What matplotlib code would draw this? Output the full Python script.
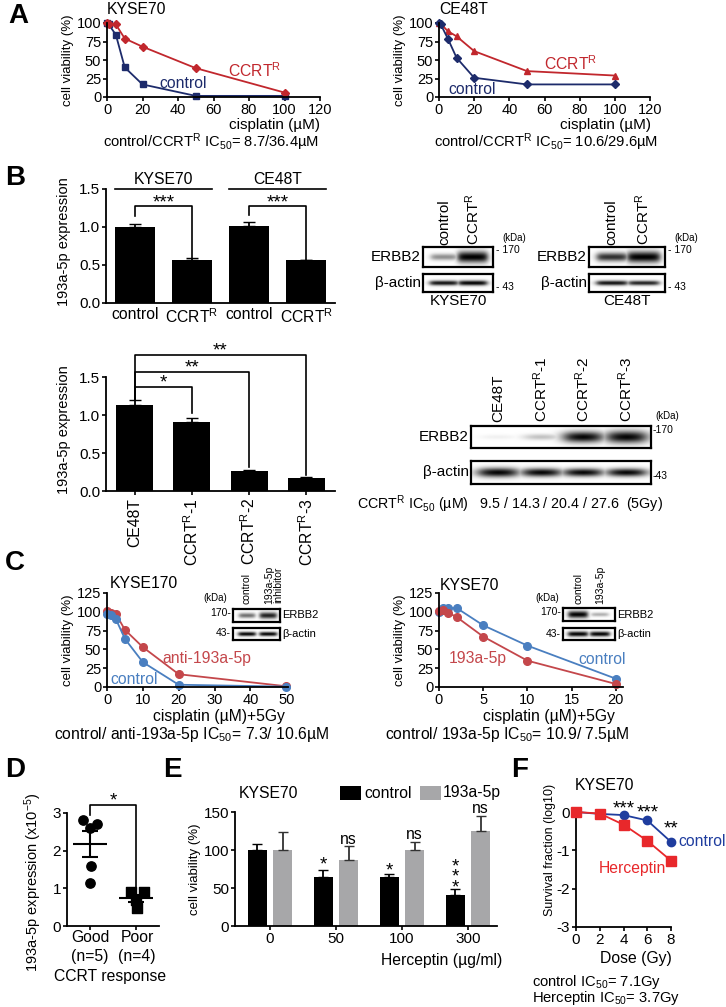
import numpy as np
import matplotlib.pyplot as plt
from matplotlib.patches import Rectangle

plt.rcParams['font.family'] = ['Liberation Sans', 'DejaVu Sans']
plt.rcParams['mathtext.default'] = 'regular'
plt.rcParams['axes.unicode_minus'] = False

# ---------------- data ----------------
# A: cisplatin dose response
a_dose = [0, 1, 5, 10, 20, 50, 100]
a_kyse_ctrl = [100, 98, 84, 40, 17, 1.5, 1.5]
a_kyse_ccrt = [100, 99, 98, 79, 68, 39, 6]
a_ce_ctrl = [100, 98, 79, 53, 26, 17, 17]
a_ce_ctrl_err = [1, 2, 4, 3, 3, 1, 1]
a_ce_ccrt = [100, 99, 89, 82, 62, 35, 29]

# B: 193a-5p expression
b_groups = ['KYSE70', 'CE48T']
b_labels = ['control', 'CCRT$^R$', 'control', 'CCRT$^R$']
b_expr = [1.00, 0.57, 1.01, 0.56]
b_err = [0.04, 0.02, 0.05, 0.005]
b2_labels = ['CE48T', 'CCRT$^R$-1', 'CCRT$^R$-2', 'CCRT$^R$-3']
b2_expr = [1.13, 0.91, 0.26, 0.17]
b2_err = [0.07, 0.05, 0.02, 0.01]
b2_ic50 = ['9.5', '14.3', '20.4', '27.6']

# western blot band strengths (0..1)
kyse_erbb2 = [0.35, 1.0]
kyse_actin = [0.75, 0.8]
ce_erbb2 = [0.65, 1.0]
ce_actin = [0.75, 0.7]
b2_erbb2 = [0.05, 0.2, 0.85, 1.0]
b2_actin = [1.0, 0.85, 0.8, 0.8]
c1_erbb2 = [0.45, 0.7]
c1_actin = [0.8, 0.8]
c2_erbb2 = [0.85, 0.25]
c2_actin = [0.95, 0.9]

# C: cisplatin + 5Gy
c1_dose = [0, 1, 2.5, 5, 10, 20, 50]
c1_ctrl = [97, 96, 90, 64, 33, 3, 0.5]
c1_anti = [101, 99, 97, 76, 53, 17, 1]
c2_dose = [0, 0.5, 1, 2, 5, 10, 20]
c2_ctrl = [100, 105, 105, 105, 82, 55, 11]
c2_mir = [101, 102, 99, 93, 67, 35, 4]

# D: patients
d_good = [2.82, 2.6, 2.72, 1.58, 1.15]
d_good_off = [-0.15, 0.0, 0.15, 0.02, 0.0]
d_poor = [0.89, 0.89, 0.69, 0.47]
d_poor_off = [-0.11, 0.17, 0.0, 0.03]

# E: herceptin
e_dose = ['0', '50', '100', '300']
e_ctrl = [100, 65, 65, 41]
e_ctrl_err = [8, 9, 3, 8]
e_mir = [100, 87, 100, 125]
e_mir_err = [24, 18, 11, 20]

# F: radiation survival
f_dose = [0, 2, 4, 6, 8]
f_ctrl = [0, -0.05, -0.08, -0.22, -0.78]
f_herc = [0, -0.04, -0.33, -0.75, -1.27]

navy = '#1d2b6b'
dred = '#c1272d'
lblue = '#4a7fc0'
lred = '#c4474b'
fblue = '#1f3d9e'
fred = '#e8282b'
gray = '#a7a7a9'

FS = 11.3
W, H = 726, 1007
fig = plt.figure(figsize=(W / 100, H / 100), dpi=100)


def add_ax(x0, y0, x1, y1):
    return fig.add_axes([x0 / W, 1 - y1 / H, (x1 - x0) / W, (y1 - y0) / H])


def txt(x, y, s, size=FS, ha='center', va='center', **kw):
    fig.text(x / W, 1 - y / H, s, fontsize=size, ha=ha, va=va, **kw)


def rect(x0, y0, x1, y1, color):
    fig.add_artist(Rectangle((x0 / W, 1 - y1 / H), (x1 - x0) / W, (y1 - y0) / H,
                             transform=fig.transFigure, color=color, lw=0))


def style(ax, size=11):
    for s in ['top', 'right']:
        ax.spines[s].set_visible(False)
    for s in ['left', 'bottom']:
        ax.spines[s].set_linewidth(1.3)
    ax.tick_params(direction='out', length=3, width=1.2, labelsize=size, pad=1.2)


def blot(x0, y0, x1, y1, lanes, vals, scale, half):
    ax = add_ax(x0, y0, x1, y1)
    yy, xx = np.mgrid[0:60, 0:400]
    xx = (xx + 0.5) / 400
    yy = (yy + 0.5) / 60
    img = np.zeros(xx.shape)
    for cx, v in zip(lanes, vals):
        sy = scale * (0.35 + 0.65 * v)
        edge = 1 / (1 + np.exp((np.abs(xx - cx) - half * (0.8 + 0.2 * v)) / 0.025))
        band = min(1.0, 1.25 * v) * np.exp(-((yy - 0.5) / sy) ** 2) * edge
        img = np.maximum(img, band)
    ax.imshow(img, cmap='gray_r', vmin=0, vmax=1, aspect='auto',
              extent=(0, 1, 1, 0), interpolation='bilinear')
    ax.set_xticks([])
    ax.set_yticks([])
    for s in ax.spines.values():
        s.set_linewidth(1.6)
    return ax


def bracket(ax, x0, x1, y, y0, y1, label, ty, size=13.5):
    ax.plot([x0, x0, x1, x1], [y0, y, y, y1], color='k', lw=1.2, clip_on=False)
    ax.text((x0 + x1) / 2, ty, label, ha='center', va='center', fontsize=size)


# ---------------- A ----------------
txt(18, 16, 'A', size=20, weight='bold')
ax = add_ax(107, 23, 320, 97)
style(ax, 10.5)
ax.plot(a_dose, a_kyse_ctrl, '-s', color=navy, ms=4.5, lw=1.3, clip_on=False)
ax.plot(a_dose, a_kyse_ccrt, '-D', color=dred, ms=4.5, lw=1.3, clip_on=False)
ax.set_xlim(0, 120)
ax.set_ylim(0, 100)
ax.set_xticks(range(0, 121, 20))
ax.set_yticks(range(0, 101, 25))
txt(107, 10, 'KYSE70', ha='left')
txt(68, 60, 'cell viability (%)', size=9.5, rotation=90)
txt(183, 83, 'control', color=navy)
txt(255, 71, 'CCRT$^R$', color=dred)
txt(320, 125, 'cisplatin (µM)', size=11, ha='right')
txt(211, 142, 'control/CCRT$^R$ IC$_{50}$= 8.7/36.4µM', size=10.6)

ax = add_ax(439, 23, 650, 97)
style(ax, 10.5)
ax.errorbar(a_dose, a_ce_ctrl, yerr=a_ce_ctrl_err, fmt='-D', color=navy, ms=4.5,
            lw=1.3, elinewidth=1.2, clip_on=False)
ax.plot(a_dose, a_ce_ccrt, '-^', color=dred, ms=5, lw=1.3, clip_on=False)
ax.set_xlim(0, 120)
ax.set_ylim(0, 100)
ax.set_xticks(range(0, 121, 20))
ax.set_yticks(range(0, 101, 25))
txt(439, 10, 'CE48T', ha='left')
txt(400, 60, 'cell viability (%)', size=9.5, rotation=90)
txt(571, 64, 'CCRT$^R$', color=dred)
txt(472, 89, 'control', color=navy)
txt(651, 125, 'cisplatin (µM)', size=11, ha='right')
txt(546, 142, 'control/CCRT$^R$ IC$_{50}$= 10.6/29.6µM', size=10.6)

# ---------------- B ----------------
txt(15, 178, 'B', size=20, weight='bold')
ax = add_ax(106, 189, 335, 303)
style(ax)
x = np.arange(4)
ax.bar(x, b_expr, width=0.7, color='k')
ax.errorbar(x, b_expr, yerr=[[0] * 4, b_err], fmt='none', ecolor='k', capsize=4.5, elinewidth=1.3)
ax.set_xlim(-0.5, 3.5)
ax.set_ylim(0, 1.5)
ax.set_yticks([0, 0.5, 1.0, 1.5])
ax.set_yticklabels(['0.0', '0.5', '1.0', '1.5'])
ax.set_xticks(x)
ax.set_xticklabels(b_labels, fontsize=FS)
ax.tick_params(axis='x', length=0, pad=3)
for i, g in enumerate(b_groups):
    ax.plot([2 * i - 0.35, 2 * i + 1.35], [1.5, 1.5], color='k', lw=1.2, clip_on=False)
    ax.text(2 * i + 0.5, 1.63, g, ha='center', va='center', fontsize=FS)
    bracket(ax, 2 * i, 2 * i + 1, 1.27, b_expr[2 * i] + b_err[2 * i] + 0.1,
            b_expr[2 * i + 1] + b_err[2 * i + 1], '***', 1.32)
txt(64, 242, '193a-5p expression', size=10.5, rotation=90)

# blots B top
for (bx0, bx1, er, ac, name) in [(423, 493, kyse_erbb2, kyse_actin, 'KYSE70'),
                                  (589, 665, ce_erbb2, ce_actin, 'CE48T')]:
    lanes = [0.3, 0.71]
    blot(bx0, 247, bx1, 267, lanes, er, 0.28, 0.21)
    blot(bx0, 274, bx1, 292, lanes, ac, 0.16, 0.21)
    for lx, lab in zip(lanes, ['control', 'CCRT$^R$']):
        txt(bx0 + lx * (bx1 - bx0), 245, lab, size=11, rotation=90, va='bottom')
    txt(bx0 - 2, 257, 'ERBB2', size=11, ha='right')
    txt(bx0 - 2, 283, 'β-actin', size=11, ha='right')
    txt(bx1 + 9, 238, '(kDa)', size=7, ha='left')
    txt(bx1 + 3, 250, '- 170', size=7.5, ha='left')
    txt(bx1 + 3, 287, '- 43', size=7.5, ha='left')
    txt((bx0 + bx1) / 2, 301, name, size=11)

# B bottom bars
ax = add_ax(106, 377, 335, 491)
style(ax)
ax.bar(x, b2_expr, width=0.65, color='k')
ax.errorbar(x, b2_expr, yerr=[[0] * 4, b2_err], fmt='none', ecolor='k', capsize=4.5, elinewidth=1.3)
ax.set_xlim(-0.5, 3.5)
ax.set_ylim(0, 1.5)
ax.set_yticks([0, 0.5, 1.0, 1.5])
ax.set_yticklabels(['0.0', '0.5', '1.0', '1.5'])
ax.set_xticks(x)
ax.set_xticklabels(b2_labels, rotation=90, fontsize=FS)
ax.tick_params(axis='x', length=3, pad=2)
top0 = b2_expr[0] + b2_err[0]
bracket(ax, 0, 1, 1.37, top0, b2_expr[1] + b2_err[1] + 0.07, '*', 1.42)
bracket(ax, 0, 2, 1.57, top0, b2_expr[2] + b2_err[2] + 0.03, '**', 1.62)
bracket(ax, 0, 3, 1.79, top0, b2_expr[3] + b2_err[3] + 0.03, '**', 1.84)
txt(64, 430, '193a-5p expression', size=10.5, rotation=90)

lanes4 = [0.15, 0.39, 0.62, 0.86]
blot(471, 426, 651, 448, lanes4, b2_erbb2, 0.28, 0.105)
blot(471, 461, 651, 484, lanes4, b2_actin, 0.2, 0.105)
for lx, lab in zip(lanes4, b2_labels):
    txt(471 + lx * 180, 422, lab, size=11, rotation=90, va='bottom')
txt(469, 437, 'ERBB2', size=11, ha='right')
txt(469, 472, 'β-actin', size=11, ha='right')
txt(655, 416, '(kDa)', size=7, ha='left')
txt(653, 430, '-170', size=7.5, ha='left')
txt(653, 476, '-43', size=7.5, ha='left')
txt(357, 504, 'CCRT$^R$ IC$_{50}$ (µM)   ' + ' / '.join(b2_ic50) + '  (5Gy)', size=10.3, ha='left')

# ---------------- C ----------------
txt(15, 563, 'C', size=20, weight='bold')
ax = add_ax(107, 593, 288, 687)
style(ax, 10.5)
ax.plot(c1_dose, c1_anti, '-o', color=lred, ms=5.5, lw=1.3, clip_on=False)
ax.plot(c1_dose, c1_ctrl, '-o', color=lblue, ms=5.5, lw=1.3, clip_on=False)
ax.set_xlim(0, 50.5)
ax.set_ylim(0, 125)
ax.set_xticks(range(0, 51, 10))
ax.set_yticks(range(0, 126, 25))
txt(110, 584, 'KYSE170', ha='left')
txt(68, 640, 'cell viability (%)', size=9.5, rotation=90)
txt(207, 658, 'anti-193a-5p', color=lred)
txt(134, 679, 'control', color=lblue)
txt(219, 716, 'cisplatin (µM)+5Gy')
txt(192, 735, 'control/ anti-193a-5p IC$_{50}$= 7.3/ 10.6µM')

blot(233, 609, 280, 622, [0.3, 0.75], c1_erbb2, 0.3, 0.19)
blot(233, 628, 280, 640, [0.3, 0.75], c1_actin, 0.2, 0.19)
txt(247, 604, 'control', size=7.5, rotation=90, va='bottom')
txt(274, 604, '193a-5p\ninhibitor', size=7.5, rotation=90, va='bottom', linespacing=0.9)
txt(203, 598, '(kDa)', size=7, ha='left')
txt(231, 613, '170-', size=7.5, ha='right')
txt(231, 633, '43-', size=7.5, ha='right')
txt(282, 615, 'ERBB2', size=8, ha='left')
txt(282, 634, 'β-actin', size=8, ha='left')

ax = add_ax(439, 593, 623, 687)
style(ax, 10.5)
ax.plot(c2_dose, c2_ctrl, '-o', color=lblue, ms=5.5, lw=1.3, clip_on=False)
ax.plot(c2_dose, c2_mir, '-o', color=lred, ms=5.5, lw=1.3, clip_on=False)
ax.set_xlim(0, 20.8)
ax.set_ylim(0, 125)
ax.set_xticks(range(0, 21, 5))
ax.set_yticks(range(0, 126, 25))
txt(440, 585, 'KYSE70', ha='left')
txt(400, 640, 'cell viability (%)', size=9.5, rotation=90)
txt(478, 659, '193a-5p', color=lred)
txt(602, 659, 'control', color=lblue)
txt(549, 716, 'cisplatin (µM)+5Gy')
txt(507, 735, 'control/ 193a-5p IC$_{50}$= 10.9/ 7.5µM')

blot(563, 608, 615, 621, [0.29, 0.71], c2_erbb2, 0.3, 0.19)
blot(563, 628, 615, 640, [0.29, 0.71], c2_actin, 0.22, 0.19)
txt(578, 604, 'control', size=7.5, rotation=90, va='bottom')
txt(600, 604, '193a-5p', size=7.5, rotation=90, va='bottom')
txt(535, 598, '(kDa)', size=7, ha='left')
txt(561, 612, '170-', size=7.5, ha='right')
txt(561, 634, '43-', size=7.5, ha='right')
txt(617, 615, 'ERBB2', size=8, ha='left')
txt(617, 634, 'β-actin', size=8, ha='left')

# ---------------- D ----------------
txt(15, 770, 'D', size=20, weight='bold')
ax = add_ax(67, 813, 159, 926)
style(ax)
ax.scatter([0 + o for o in d_good_off], d_good, marker='o', s=45, color='k', zorder=3, clip_on=False)
ax.scatter([1 + o for o in d_poor_off], d_poor, marker='s', s=45, color='k', zorder=3, clip_on=False)
for i, vals in enumerate([d_good, d_poor]):
    m = np.mean(vals)
    se = np.std(vals, ddof=1) / np.sqrt(len(vals))
    ax.hlines(m, i - 0.36, i + 0.36, color='k', lw=1.5)
    ax.vlines(i, m - se, m + se, color='k', lw=1.5)
    ax.hlines([m - se, m + se], i - 0.18, i + 0.18, color='k', lw=1.5)
ax.set_xlim(-0.5, 1.5)
ax.set_ylim(0, 3)
ax.set_yticks([0, 1, 2, 3])
ax.set_xticks([0, 1])
ax.set_xticklabels(['', ''])
bracket(ax, 0, 1, 3.2, 2.95, 1.0, '*', 3.33)
txt(90, 938, 'Good')
txt(90, 957, '(n=5)')
txt(137, 938, 'Poor')
txt(137, 957, '(n=4)')
txt(110, 977, 'CCRT response')
txt(33, 882, '193a-5p expression (x10$^{-5}$)', size=10.5, rotation=90)

# ---------------- E ----------------
txt(172, 770, 'E', size=20, weight='bold')
txt(269, 793, 'KYSE70')
rect(340, 786, 361, 800, 'k')
txt(364, 793, 'control', ha='left')
rect(420, 786, 441, 800, gray)
txt(443, 793, '193a-5p', ha='left')
ax = add_ax(235, 812, 497, 926)
style(ax)
xe = np.arange(4)
ax.bar(xe - 0.19, e_ctrl, width=0.29, color='k')
ax.bar(xe + 0.19, e_mir, width=0.29, color=gray)
ax.errorbar(xe - 0.19, e_ctrl, yerr=[[0] * 4, e_ctrl_err], fmt='none', ecolor='k', capsize=3.5, elinewidth=1.3)
ax.errorbar(xe + 0.19, e_mir, yerr=[[0] * 4, e_mir_err], fmt='none', ecolor='#333333', capsize=3.5, elinewidth=1.3)
ax.set_xlim(-0.53, 3.44)
ax.set_ylim(0, 150)
ax.set_yticks([0, 50, 100, 150])
ax.set_xticks(xe)
ax.set_xticklabels(e_dose)
ax.text(1 - 0.19, 80, '*', ha='center', va='center', fontsize=13.5)
ax.text(2 - 0.19, 72, '*', ha='center', va='center', fontsize=13.5)
ax.text(3 - 0.19, 64, '*\n*\n*', ha='center', va='center', fontsize=13.5, linespacing=0.5)
for i, yy in [(1, 114), (2, 121), (3, 154)]:
    ax.text(i + 0.19, yy, 'ns', ha='center', va='center', fontsize=FS, clip_on=False)
txt(195, 869, 'cell viability (%)', size=9.5, rotation=90)
txt(442, 960, 'Herceptin (µg/ml)')

# ---------------- F ----------------
txt(520, 770, 'F', size=20, weight='bold')
txt(575, 785, 'KYSE70', ha='left')
ax = add_ax(576, 812, 671, 927)
style(ax)
ax.plot(f_dose, f_ctrl, '-o', color=fblue, ms=6, lw=1.3, clip_on=False, zorder=3)
ax.plot(f_dose, f_herc, '-s', color=fred, ms=6.5, lw=1.3, clip_on=False, zorder=4)
ax.set_xlim(0, 8)
ax.set_ylim(-3, 0)
ax.set_xticks(range(0, 9, 2))
ax.set_yticks([0, -1, -2, -3])
ax.text(4, 0.08, '***', ha='center', va='center', fontsize=13.5, clip_on=False)
ax.text(6, -0.02, '***', ha='center', va='center', fontsize=13.5, clip_on=False)
ax.text(8, -0.45, '**', ha='center', va='center', fontsize=13.5, clip_on=False)
txt(678, 842, 'control', ha='left', color=fblue)
txt(632, 868, 'Herceptin', color=fred)
txt(550, 850, 'Survival fraction (log10)', size=9, rotation=90)
txt(636, 959, 'Dose (Gy)')
txt(532, 982, 'control IC$_{50}$= 7.1Gy', ha='left', size=10.6)
txt(532, 998, 'Herceptin IC$_{50}$= 3.7Gy', ha='left', size=10.6)

fig.savefig('out.png', dpi=100)
